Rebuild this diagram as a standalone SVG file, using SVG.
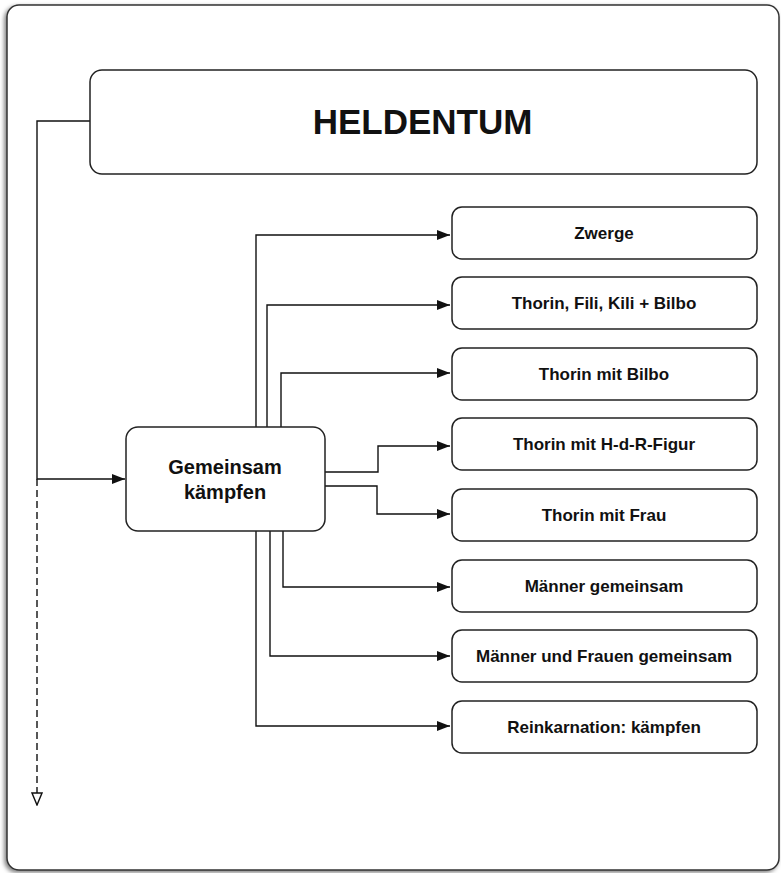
<svg xmlns="http://www.w3.org/2000/svg" width="781" height="873" viewBox="0 0 781 873">
<defs>
<style>
.box{fill:#fff;stroke:#222;stroke-width:1.5}
.t{font-family:"Liberation Sans",Arial,sans-serif;font-weight:bold;fill:#111;text-anchor:middle}
.c{fill:none;stroke:#111;stroke-width:1.4}
</style>
<filter id="sh" x="-5%" y="-5%" width="110%" height="110%">
<feDropShadow dx="-2" dy="2" stdDeviation="2" flood-color="#000" flood-opacity="0.5"/>
</filter>
<marker id="ah" viewBox="0 0 13 10" refX="13" refY="5" markerWidth="13" markerHeight="10" markerUnits="userSpaceOnUse" orient="auto">
<path d="M0,0 L13,5 L0,10 Z" fill="#111"/>
</marker>
<marker id="oh" viewBox="0 0 12 14" refX="6" refY="13" markerWidth="12" markerHeight="14" markerUnits="userSpaceOnUse" orient="0">
<path d="M1,1 L11,1 L6,13 Z" fill="#fff" stroke="#111" stroke-width="1.4"/>
</marker>
</defs>
<rect width="781" height="873" fill="#fff"/>
<rect x="7" y="5" width="772" height="865" rx="12" fill="#fff" stroke="#333" stroke-width="1.5" filter="url(#sh)"/>

<g id="connectors">
<path class="c" d="M90,121 H37 V479 H125" marker-end="url(#ah)"/>
<path class="c" d="M37,479 V805" stroke-dasharray="7,4" marker-end="url(#oh)"/>
<path class="c" d="M256,427 V235 H450" marker-end="url(#ah)"/>
<path class="c" d="M267,427 V305 H450" marker-end="url(#ah)"/>
<path class="c" d="M281,427 V373 H450" marker-end="url(#ah)"/>
<path class="c" d="M325,472 H378 V446 H450" marker-end="url(#ah)"/>
<path class="c" d="M325,486 H377 V514 H450" marker-end="url(#ah)"/>
<path class="c" d="M283,531 V587 H450" marker-end="url(#ah)"/>
<path class="c" d="M270,531 V656 H450" marker-end="url(#ah)"/>
<path class="c" d="M256,531 V726 H450" marker-end="url(#ah)"/>
</g>

<g id="heldentum">
<rect class="box" x="90" y="70" width="667" height="104" rx="12"/>
<text class="t" x="422.5" y="134" font-size="35">HELDENTUM</text>
</g>
<g id="gemeinsam">
<rect class="box" x="126" y="427" width="199" height="104" rx="12"/>
<text class="t" x="225" y="474" font-size="20">Gemeinsam</text>
<text class="t" x="225" y="499" font-size="20">kämpfen</text>
</g>
<g id="zwerge">
<rect class="box" x="452" y="207" width="305" height="52" rx="10"/>
<text class="t" x="604" y="239" font-size="17">Zwerge</text>
</g>
<g id="thorin-fili-kili">
<rect class="box" x="452" y="277" width="305" height="52" rx="10"/>
<text class="t" x="604" y="309" font-size="17">Thorin, Fili, Kili + Bilbo</text>
</g>
<g id="thorin-bilbo">
<rect class="box" x="452" y="348" width="305" height="52" rx="10"/>
<text class="t" x="604" y="380" font-size="17">Thorin mit Bilbo</text>
</g>
<g id="thorin-hdr">
<rect class="box" x="452" y="418" width="305" height="52" rx="10"/>
<text class="t" x="604" y="450" font-size="17">Thorin mit H-d-R-Figur</text>
</g>
<g id="thorin-frau">
<rect class="box" x="452" y="489" width="305" height="52" rx="10"/>
<text class="t" x="604" y="521" font-size="17">Thorin mit Frau</text>
</g>
<g id="maenner">
<rect class="box" x="452" y="560" width="305" height="52" rx="10"/>
<text class="t" x="604" y="592" font-size="17">Männer gemeinsam</text>
</g>
<g id="maenner-frauen">
<rect class="box" x="452" y="630" width="305" height="52" rx="10"/>
<text class="t" x="604" y="662" font-size="17">Männer und Frauen gemeinsam</text>
</g>
<g id="reinkarnation">
<rect class="box" x="452" y="701" width="305" height="52" rx="10"/>
<text class="t" x="604" y="733" font-size="17">Reinkarnation: kämpfen</text>
</g>
</svg>
